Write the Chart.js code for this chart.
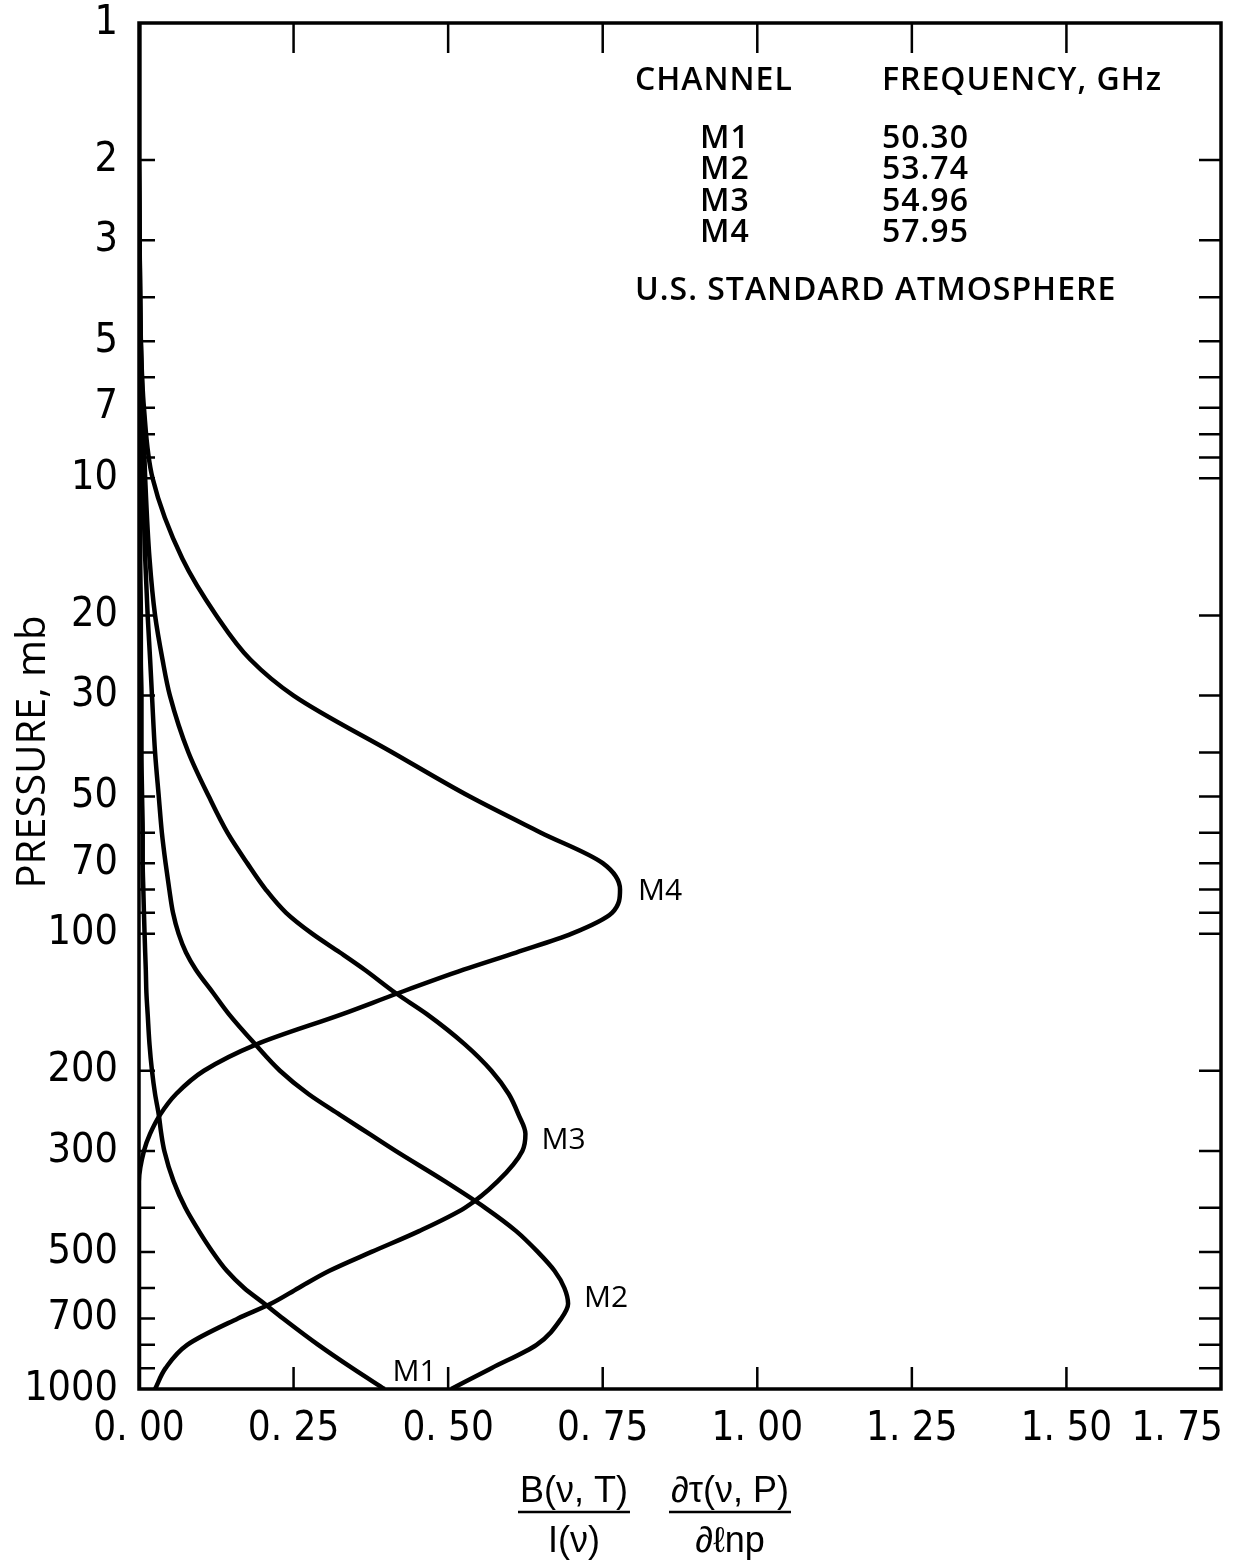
<!DOCTYPE html>
<html>
<head>
<meta charset="utf-8">
<title>Weighting functions, channels M1-M4</title>
<script src="https://cdn.jsdelivr.net/npm/chart.js@4/dist/chart.umd.min.js"></script>
<style>
  html, body { margin: 0; padding: 0; background: #ffffff; }
  #wrap { width: 1243px; height: 1561px; position: relative; }
  canvas { display: block; }
</style>
</head>
<body>
<div id="wrap"><canvas id="chart" width="1243" height="1561"></canvas></div>
<script>
// Pressure levels (mb) at which each weighting function is tabulated
const pressureLevels = [1, 2, 3, 5, 7, 10, 15, 20, 25, 30, 40, 50, 60, 70, 80, 90, 100, 110, 120, 135,
  150, 175, 200, 225, 250, 275, 300, 350, 400, 450, 500, 550, 600, 650, 700, 800, 900, 1000];

// Normalised weighting function B(v,T)/I(v) * dtau(v,P)/dlnp per channel
const m1Values = [0, 0, 0, 0.001, 0.001, 0.002, 0.002, 0.003, 0.003, 0.004, 0.004, 0.005, 0.006, 0.006,
  0.007, 0.008, 0.009, 0.010, 0.011, 0.012, 0.014, 0.017, 0.021, 0.026, 0.032, 0.036, 0.041, 0.056,
  0.075, 0.097, 0.119, 0.142, 0.170, 0.203, 0.233, 0.290, 0.345, 0.397];
const m2Values = [0, 0, 0.001, 0.002, 0.003, 0.006, 0.010, 0.014, 0.018, 0.021, 0.026, 0.032, 0.037,
  0.043, 0.049, 0.055, 0.064, 0.076, 0.092, 0.120, 0.145, 0.188, 0.228, 0.274, 0.325, 0.372, 0.415,
  0.495, 0.560, 0.610, 0.645, 0.672, 0.688, 0.694, 0.683, 0.643, 0.570, 0.505];
const m3Values = [0, 0, 0.001, 0.003, 0.006, 0.010, 0.017, 0.026, 0.038, 0.050, 0.080, 0.113, 0.143,
  0.175, 0.205, 0.238, 0.280, 0.325, 0.365, 0.415, 0.465, 0.527, 0.570, 0.598, 0.614, 0.625, 0.620,
  0.580, 0.527, 0.453, 0.376, 0.308, 0.258, 0.213, 0.160, 0.078, 0.043, 0.026];
const m4Values = [0, 0, 0.001, 0.003, 0.008, 0.022, 0.070, 0.125, 0.180, 0.250, 0.410, 0.535, 0.650,
  0.750, 0.778, 0.765, 0.700, 0.610, 0.525, 0.420, 0.330, 0.190, 0.105, 0.060, 0.034, 0.018, 0.008,
  0, 0, 0, 0, 0, 0, 0, 0, 0, 0, 0];

// Channel table
const channelNames = ['M1', 'M2', 'M3', 'M4'];
const channelFreqs = ['50.30', '53.74', '54.96', '57.95'];

// Axis ticks
const xTickValues = [0, 0.25, 0.5, 0.75, 1.0, 1.25, 1.5, 1.75];
const xTickLabels = ['0. 00', '0. 25', '0. 50', '0. 75', '1. 00', '1. 25', '1. 50', '1. 75'];
const yTickValues = [1, 2, 3, 4, 5, 6, 7, 8, 9, 10, 20, 30, 40, 50, 60, 70, 80, 90,
  100, 200, 300, 400, 500, 600, 700, 800, 900, 1000];
const yTickLabels = [1, 2, 3, 5, 7, 10, 20, 30, 50, 70, 100, 200, 300, 500, 700, 1000];

const NUM_FONT = "'Liberation Sans Narrow', 'DejaVu Sans Condensed', 'Roboto Condensed', 'Liberation Sans', sans-serif";
const TEXT_FONT = "'Open Sans', 'Noto Sans', 'DejaVu Sans', sans-serif";
const MATH_FONT = "'Liberation Sans', 'DejaVu Sans', sans-serif";

function toPoints(values) {
  return pressureLevels.map((p, i) => ({ x: values[i], y: p }));
}

const seriesList = [
  { name: 'M1', values: m1Values, anchor: 'last', dx: 8, dy: -17 },
  { name: 'M2', values: m2Values, anchor: 'peak', dx: 16, dy: -5 },
  { name: 'M3', values: m3Values, anchor: 'peak', dx: 16, dy: 7 },
  { name: 'M4', values: m4Values, anchor: 'peak', dx: 18, dy: 2 }
];

// Frame, inward tick marks, tick labels on x, annotations and axis titles
const decorations = {
  id: 'decorations',
  afterDatasetsDraw(chart) {
    const { ctx, chartArea: a, scales } = chart;
    const xs = scales.x, ys = scales.y;
    ctx.save();
    ctx.strokeStyle = '#000';
    ctx.fillStyle = '#000';
    ctx.lineCap = 'square';

    // frame
    ctx.lineWidth = 3.5;
    ctx.strokeRect(a.left, a.top, a.right - a.left, a.bottom - a.top);

    // x ticks, top (long) and bottom (short), pointing inward
    ctx.lineWidth = 2.5;
    ctx.lineCap = 'butt';
    xTickValues.forEach(v => {
      if (v <= 0 || v >= 1.75) return;
      const px = xs.getPixelForValue(v);
      ctx.beginPath();
      ctx.moveTo(px, a.top); ctx.lineTo(px, a.top + 30);
      ctx.moveTo(px, a.bottom); ctx.lineTo(px, a.bottom - 22);
      ctx.stroke();
    });
    // y ticks, left and right, pointing inward
    yTickValues.forEach(v => {
      if (v <= 1 || v >= 1000) return;
      const py = ys.getPixelForValue(v);
      ctx.beginPath();
      ctx.moveTo(a.left, py); ctx.lineTo(a.left + 16, py);
      ctx.moveTo(a.right, py); ctx.lineTo(a.right - 22, py);
      ctx.stroke();
    });

    // x tick labels
    ctx.font = '40px ' + NUM_FONT;
    ctx.textBaseline = 'alphabetic';
    xTickValues.forEach((v, i) => {
      const px = xs.getPixelForValue(v);
      const last = i === xTickValues.length - 1;
      ctx.textAlign = last ? 'right' : 'center';
      ctx.fillText(xTickLabels[i], last ? px + 2 : px, a.bottom + 51);
    });

    // x axis title: B(v,T)/I(v) * dtau(v,P)/dlnp
    ctx.font = '36px ' + MATH_FONT;
    ctx.textAlign = 'center';
    const fracs = [
      { num: 'B(\u03bd, T)', den: 'I(\u03bd)', cx: 574 },
      { num: '\u2202\u03c4(\u03bd, P)', den: '\u2202\u2113np', cx: 730 }
    ];
    const barY = a.bottom + 123;
    ctx.lineWidth = 2.5;
    fracs.forEach(f => {
      const w = Math.max(ctx.measureText(f.num).width, ctx.measureText(f.den).width) + 4;
      ctx.fillText(f.num, f.cx, barY - 10);
      ctx.fillText(f.den, f.cx, barY + 40);
      ctx.beginPath();
      ctx.moveTo(f.cx - w / 2, barY); ctx.lineTo(f.cx + w / 2, barY);
      ctx.stroke();
    });

    // y axis title
    ctx.save();
    ctx.translate(45, 752);
    ctx.rotate(-Math.PI / 2);
    ctx.font = '500 40px ' + TEXT_FONT;
    ctx.textAlign = 'center';
    ctx.fillText('PRESSURE, mb', 0, 0);
    ctx.restore();

    // channel table
    ctx.font = '600 32px ' + TEXT_FONT;
    ctx.textAlign = 'left';
    ctx.letterSpacing = '1px';
    ctx.fillText('CHANNEL', 635, 90);
    ctx.fillText('FREQUENCY, GHz', 882, 90);
    channelNames.forEach((n, i) => {
      const y = 148 + i * 31.3;
      ctx.fillText(n, 700, y);
      ctx.fillText(channelFreqs[i], 882, y);
    });
    ctx.fillText('U.S. STANDARD ATMOSPHERE', 635, 300);
    ctx.letterSpacing = '0px';

    // curve labels
    ctx.font = '30px ' + TEXT_FONT;
    ctx.textBaseline = 'middle';
    seriesList.forEach(s => {
      let idx = s.values.length - 1;
      if (s.anchor === 'peak') {
        idx = 0;
        s.values.forEach((v, i) => { if (v > s.values[idx]) idx = i; });
      }
      const px = xs.getPixelForValue(s.values[idx]);
      const py = ys.getPixelForValue(pressureLevels[idx]);
      ctx.fillText(s.name, px + s.dx, py + s.dy);
    });

    ctx.restore();
  }
};

new Chart(document.getElementById('chart'), {
  type: 'scatter',
  data: {
    datasets: seriesList.map(s => ({
      label: s.name,
      data: toPoints(s.values),
      showLine: true,
      indexAxis: 'y',
      cubicInterpolationMode: 'monotone',
      borderColor: '#000',
      backgroundColor: '#000',
      borderWidth: 4.5,
      pointRadius: 0,
      fill: false
    }))
  },
  options: {
    responsive: false,
    animation: false,
    layout: { padding: { top: 23, right: 22, left: 0, bottom: 0 } },
    plugins: { legend: { display: false }, tooltip: { enabled: false } },
    scales: {
      x: {
        type: 'linear',
        min: 0,
        max: 1.75,
        afterBuildTicks: s => { s.ticks = xTickValues.map(v => ({ value: v })); },
        afterFit: s => { s.height = 172; s.paddingLeft = 0; s.paddingRight = 0; },
        ticks: { display: false },
        grid: { display: false, drawTicks: false },
        border: { display: false }
      },
      y: {
        type: 'logarithmic',
        reverse: true,
        min: 1,
        max: 1000,
        afterBuildTicks: s => { s.ticks = yTickValues.map(v => ({ value: v })); },
        afterFit: s => { s.width = 139; s.paddingTop = 0; s.paddingBottom = 0; },
        ticks: {
          autoSkip: false,
          padding: 21,
          color: '#000',
          font: { family: NUM_FONT, size: 41 },
          callback: v => (yTickLabels.includes(v) ? String(v) : '')
        },
        grid: { display: false, drawTicks: false },
        border: { display: false }
      }
    }
  },
  plugins: [decorations]
});
</script>
</body>
</html>
